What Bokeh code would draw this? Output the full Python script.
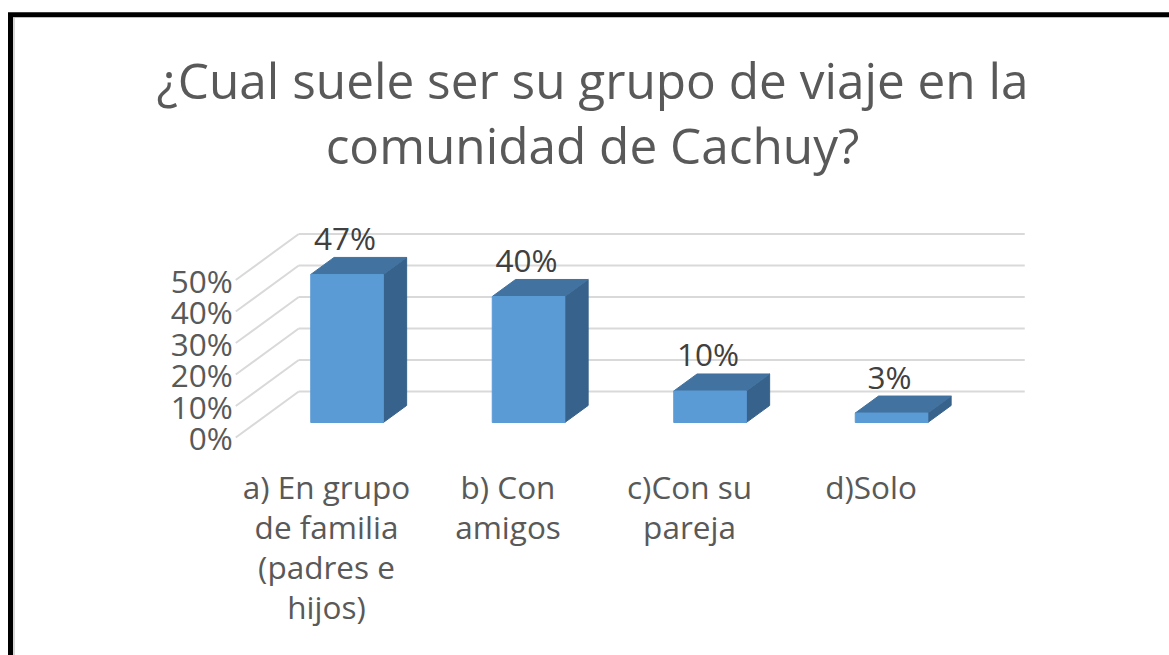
from bokeh.plotting import figure
from bokeh.models import Range1d
from bokeh.embed import file_html
from bokeh.resources import INLINE
from bokeh.core.properties import value

# ---- data ----
categories = ["a) En grupo\nde familia\n(padres e\nhijos)", "b) Con\namigos", "c)Con su\npareja", "d)Solo"]
values = [47, 40, 10, 3]
value_labels = ["47%", "40%", "10%", "3%"]
y_ticks = [0, 10, 20, 30, 40, 50]
y_tick_labels = ["0%", "10%", "20%", "30%", "40%", "50%"]
title_lines = ["¿Cual suele ser su grupo de viaje en la", "comunidad de Cachuy?"]

# ---- layout / style constants (page pixels) ----
OFF = 0
W, H = 1169, 655
PX_PER_CAT = 181.5
PX_PER_PCT = 3.15
X0_PAGE = 326.0      # page x of category 0 at the front edge
Y0_PAGE = 437.0      # page y of 0% at the front edge
DEPTH_DX = 63.0      # full floor depth in px (right)
DEPTH_DY = 46.0      # full floor depth in px (up)
KX = DEPTH_DX / PX_PER_CAT
KY = DEPTH_DY / PX_PER_PCT
ZF, ZB = 0.326, 0.696   # bar front / back depth
HW = 0.2                # bar half width in category units
FONT = value("Open Sans")
TXT = "#595959"


def X(i, z):
    return i + KX * z


def Y(v, z):
    return v + KY * z


def page_x(px):
    return (px - X0_PAGE) / PX_PER_CAT


def page_y(py):
    return (Y0_PAGE - py) / PX_PER_PCT


p = figure(width=W, height=H, output_backend="svg", toolbar_location=None,
           x_axis_type=None, y_axis_type=None,
           x_range=Range1d(page_x(OFF), page_x(OFF + W)),
           y_range=Range1d(page_y(OFF + H), page_y(OFF)),
           min_border=0, outline_line_color=None,
           background_fill_color="white", border_fill_color="white")
p.grid.visible = False

# ---- border of the (cropped) chart area: left and top edges ----
p.line([page_x(10.0), page_x(10.0), page_x(W + 5)],
       [page_y(H + 5), page_y(14.2), page_y(14.2)],
       line_color="black", line_width=5, line_join="miter")
p.line([page_x(13.5), page_x(13.5)], [page_y(H + 5), page_y(17)],
       line_color="#b0b0b0", line_width=1)

# ---- walls (gridlines) ----
left, right = -0.5, len(categories) - 0.5
gx, gy = [], []
for t in y_ticks:
    gx.append([X(left, 1), X(right, 1)])
    gy.append([Y(t, 1), Y(t, 1)])
    gx.append([X(left, 1), X(left, 0)])
    gy.append([Y(t, 1), Y(t, 0)])
p.multi_line(gx, gy, line_color="#d9d9d9", line_width=2)

# ---- 3D bars ----
fl, fr, fb, ft = [], [], [], []
tx, ty, sx, sy = [], [], [], []
for i, v in enumerate(values):
    fl.append(X(i - HW, ZF)); fr.append(X(i + HW, ZF))
    fb.append(Y(0, ZF)); ft.append(Y(v, ZF))
    tx.append([X(i - HW, ZF), X(i + HW, ZF), X(i + HW, ZB), X(i - HW, ZB)])
    ty.append([Y(v, ZF), Y(v, ZF), Y(v, ZB), Y(v, ZB)])
    sx.append([X(i + HW, ZF), X(i + HW, ZF), X(i + HW, ZB), X(i + HW, ZB)])
    sy.append([Y(0, ZF), Y(v, ZF), Y(v, ZB), Y(0, ZB)])
p.patches(sx, sy, fill_color="#37628b", line_color="#37628b", line_width=1)
p.patches(tx, ty, fill_color="#42729f", line_color="#42729f", line_width=1)
p.quad(left=fl, right=fr, bottom=fb, top=ft, fill_color="#5b9bd5", line_color="#5b9bd5", line_width=1)

# ---- data labels (centre placed ~20px above the bar's back top edge) ----
lab_x = [X(i, ZF) - 2 / PX_PER_CAT for i in range(len(values))]
lab_y = [Y(v, ZB) + 20 / PX_PER_PCT for v in values]
p.text(lab_x, lab_y, text=value_labels, text_font=FONT, text_font_size="31.5px",
       text_color="#404040", text_align="center", text_baseline="middle")

# ---- y tick labels ----
p.text([X(left, 0)] * len(y_ticks), [Y(t, 0) for t in y_ticks], text=y_tick_labels,
       text_font=FONT, text_font_size="31.5px", text_color=TXT,
       text_align="right", text_baseline="middle", x_offset=-3)

# ---- category labels ----
first_line_v = page_y(486)
line_step = 40 / PX_PER_PCT
cx, cy, ct = [], [], []
for i, lab in enumerate(categories):
    for k, line in enumerate(lab.split("\n")):
        cx.append(X(i, 0)); cy.append(first_line_v - k * line_step); ct.append(line)
p.text(cx, cy, text=ct, text_font=FONT, text_font_size="31.5px", text_color=TXT,
       text_align="center", text_baseline="middle")

# ---- title ----
title_x = page_x(592)
title_y = [page_y(79), page_y(144)]
p.text([title_x] * 2, title_y, text=title_lines, text_font=FONT, text_font_size="49.5px",
       text_color=TXT, text_align="center", text_baseline="middle")

open("out.html", "w").write(file_html(p, INLINE))
